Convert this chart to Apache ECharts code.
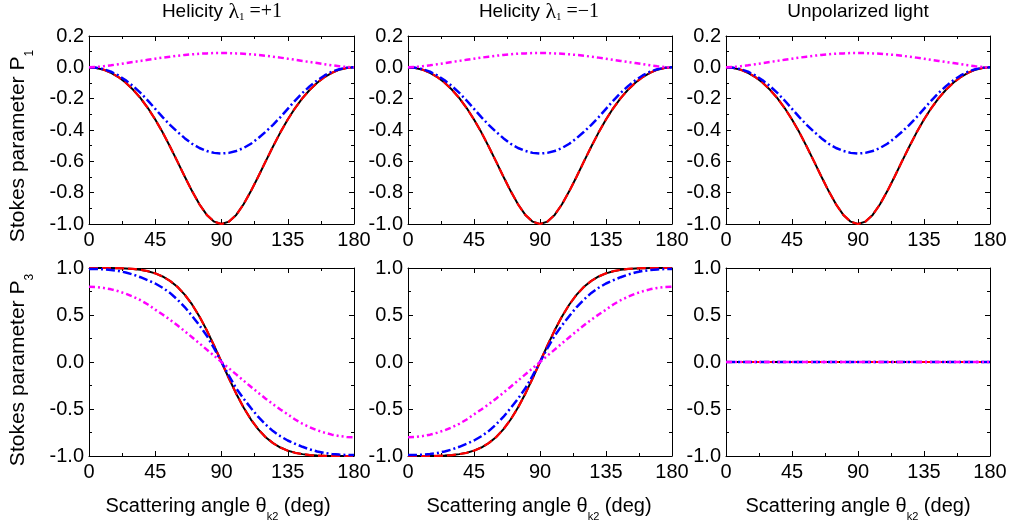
<!DOCTYPE html>
<html><head><meta charset="utf-8">
<script src="https://cdn.jsdelivr.net/npm/echarts@6/dist/echarts.min.js"></script>
<style>html,body{margin:0;padding:0;background:#fff}#c{width:1011px;height:527px}</style>
</head><body><div id="c"></div>
<script>
// ---- data ----
const angles = [0,5,10,15,20,25,30,35,40,45,50,55,60,65,70,75,80,85,90,95,100,105,110,115,120,125,130,135,140,145,150,155,160,165,170,175,180];
const xTicks = [0,45,90,135,180];
const p1TickLabels = ['-1.0','-0.8','-0.6','-0.4','-0.2','0.0','0.2'];
const p3TickLabels = ['-1.0','-0.5','0.0','0.5','1.0'];

const p1Black = [0,-0.004,-0.015,-0.035,-0.062,-0.098,-0.143,-0.197,-0.260,-0.333,-0.415,-0.505,-0.600,-0.697,-0.790,-0.874,-0.942,-0.985,-1.000,-0.985,-0.942,-0.874,-0.790,-0.697,-0.600,-0.505,-0.415,-0.333,-0.260,-0.197,-0.143,-0.098,-0.062,-0.035,-0.015,-0.004,0];
const p1Red   = [0,-0.004,-0.015,-0.035,-0.062,-0.098,-0.143,-0.197,-0.260,-0.333,-0.415,-0.505,-0.600,-0.697,-0.790,-0.874,-0.942,-0.985,-1.000,-0.985,-0.942,-0.874,-0.790,-0.697,-0.600,-0.505,-0.415,-0.333,-0.260,-0.197,-0.143,-0.098,-0.062,-0.035,-0.015,-0.004,0];
const p1Blue  = [0,-0.003,-0.012,-0.028,-0.052,-0.083,-0.120,-0.163,-0.212,-0.265,-0.318,-0.367,-0.411,-0.452,-0.488,-0.515,-0.534,-0.546,-0.550,-0.546,-0.534,-0.515,-0.488,-0.452,-0.411,-0.367,-0.318,-0.265,-0.212,-0.163,-0.120,-0.083,-0.052,-0.028,-0.012,-0.003,0];
const p1Magenta = [0,0.002,0.007,0.013,0.020,0.027,0.034,0.041,0.048,0.055,0.062,0.068,0.074,0.079,0.083,0.087,0.089,0.091,0.091,0.091,0.089,0.087,0.083,0.079,0.074,0.068,0.062,0.055,0.048,0.041,0.034,0.027,0.020,0.013,0.007,0.002,0];

const p3PlusBlack = [1.000,1.000,1.000,0.999,0.998,0.995,0.990,0.980,0.966,0.943,0.910,0.863,0.800,0.717,0.612,0.485,0.337,0.173,0.000,-0.173,-0.337,-0.485,-0.612,-0.717,-0.800,-0.863,-0.910,-0.943,-0.966,-0.980,-0.990,-0.995,-0.998,-0.999,-1.000,-1.000,-1.000];
const p3PlusRed   = [1.000,1.000,1.000,0.999,0.998,0.995,0.990,0.980,0.966,0.943,0.910,0.863,0.800,0.717,0.612,0.485,0.337,0.173,0.000,-0.173,-0.337,-0.485,-0.612,-0.717,-0.800,-0.863,-0.910,-0.943,-0.966,-0.980,-0.990,-0.995,-0.998,-0.999,-1.000,-1.000,-1.000];
const p3PlusBlue  = [0.990,0.989,0.985,0.978,0.968,0.952,0.930,0.902,0.870,0.835,0.790,0.735,0.665,0.585,0.490,0.390,0.280,0.145,0.000,-0.145,-0.280,-0.390,-0.490,-0.585,-0.665,-0.735,-0.790,-0.835,-0.870,-0.902,-0.930,-0.952,-0.968,-0.978,-0.985,-0.989,-0.990];
const p3PlusMagenta = [0.800,0.797,0.788,0.773,0.752,0.726,0.694,0.657,0.612,0.557,0.505,0.450,0.390,0.328,0.264,0.198,0.132,0.066,0.000,-0.066,-0.132,-0.198,-0.264,-0.328,-0.390,-0.450,-0.505,-0.557,-0.612,-0.657,-0.694,-0.726,-0.752,-0.773,-0.788,-0.797,-0.800];

const p3MinusBlack = [-1.000,-1.000,-1.000,-0.999,-0.998,-0.995,-0.990,-0.980,-0.966,-0.943,-0.910,-0.863,-0.800,-0.717,-0.612,-0.485,-0.337,-0.173,0.000,0.173,0.337,0.485,0.612,0.717,0.800,0.863,0.910,0.943,0.966,0.980,0.990,0.995,0.998,0.999,1.000,1.000,1.000];
const p3MinusRed   = [-1.000,-1.000,-1.000,-0.999,-0.998,-0.995,-0.990,-0.980,-0.966,-0.943,-0.910,-0.863,-0.800,-0.717,-0.612,-0.485,-0.337,-0.173,0.000,0.173,0.337,0.485,0.612,0.717,0.800,0.863,0.910,0.943,0.966,0.980,0.990,0.995,0.998,0.999,1.000,1.000,1.000];
const p3MinusBlue  = [-0.990,-0.989,-0.985,-0.978,-0.968,-0.952,-0.930,-0.902,-0.870,-0.835,-0.790,-0.735,-0.665,-0.585,-0.490,-0.390,-0.280,-0.145,0.000,0.145,0.280,0.390,0.490,0.585,0.665,0.735,0.790,0.835,0.870,0.902,0.930,0.952,0.968,0.978,0.985,0.989,0.990];
const p3MinusMagenta = [-0.800,-0.797,-0.788,-0.773,-0.752,-0.726,-0.694,-0.657,-0.612,-0.557,-0.505,-0.450,-0.390,-0.328,-0.264,-0.198,-0.132,-0.066,0.000,0.066,0.132,0.198,0.264,0.328,0.390,0.450,0.505,0.557,0.612,0.657,0.694,0.726,0.752,0.773,0.788,0.797,0.800];

const p3Unpolarized = [0,0,0,0,0,0,0,0,0,0,0,0,0,0,0,0,0,0,0,0,0,0,0,0,0,0,0,0,0,0,0,0,0,0,0,0,0];

// ---- layout / style ----
const FONT = '"Liberation Sans", Arial, sans-serif';
const SERIF = '"Liberation Serif", "Times New Roman", serif';
const lefts = [89, 408, 726], widths = [265, 264, 264], tops = [36, 268], H = 188;
const styles = [
  {color:'#000000', width:2, type:'solid'},
  {color:'#ff0000', width:2.2, type:[9,4]},
  {color:'#0000ff', width:2.5, type:[9,3,2,3]},
  {color:'#ff00ff', width:2.5, type:[6,3,2,3,2,3]}
];
const panels = [
  {row:0, col:0, d:[p1Black,p1Red,p1Blue,p1Magenta]},
  {row:0, col:1, d:[p1Black,p1Red,p1Blue,p1Magenta]},
  {row:0, col:2, d:[p1Black,p1Red,p1Blue,p1Magenta]},
  {row:1, col:0, d:[p3PlusBlack,p3PlusRed,p3PlusBlue,p3PlusMagenta]},
  {row:1, col:1, d:[p3MinusBlack,p3MinusRed,p3MinusBlue,p3MinusMagenta]},
  {row:1, col:2, d:[p3Unpolarized,p3Unpolarized,p3Unpolarized,p3Unpolarized]}
];

const grid = [], xAxis = [], yAxis = [], series = [];
const line = {show:true, onZero:false, lineStyle:{color:'#000', width:1}};
const tick = {show:true, inside:true, length:5, lineStyle:{color:'#000', width:1}};
const minor = (n)=>({show:true, splitNumber:n, length:3, lineStyle:{color:'#000', width:1}});

panels.forEach((p, g) => {
  grid.push({left:lefts[p.col], top:tops[p.row], width:widths[p.col], height:H, containLabel:false});
  const xa = {type:'value', gridIndex:g, min:xTicks[0], max:xTicks[xTicks.length-1], interval:xTicks[1]-xTicks[0],
    axisLine:line, axisTick:tick, minorTick:minor(2), splitLine:{show:false}};
  xAxis.push(Object.assign({}, xa, {position:'bottom',
    axisLabel:{show:true, color:'#000', fontSize:20, fontFamily:FONT, margin:6}}));
  xAxis.push(Object.assign({}, xa, {position:'top', axisLabel:{show:false}}));
  const labels = p.row === 0 ? p1TickLabels : p3TickLabels;
  const ymin = parseFloat(labels[0]), ymax = parseFloat(labels[labels.length-1]);
  const step = (ymax-ymin)/(labels.length-1);
  const ya = {type:'value', gridIndex:g, min:ymin, max:ymax, interval:step,
    axisLine:line, axisTick:tick, minorTick:minor(2), splitLine:{show:false}};
  yAxis.push(Object.assign({}, ya, {position:'left',
    axisLabel:{show:true, color:'#000', fontSize:20, fontFamily:FONT, margin:5,
      formatter:(v)=> labels[Math.round((v-ymin)/step)]}}));
  yAxis.push(Object.assign({}, ya, {position:'right', axisLabel:{show:false}}));
  p.d.forEach((arr, k) => {
    series.push({type:'line', xAxisIndex:2*g, yAxisIndex:2*g, showSymbol:false, symbol:'none',
      lineStyle:styles[k], z:2+k, silent:true,
      data: angles.map((a,i)=>[a, arr[i]])});
  });
});

// ---- text with subscripts, built from measured pieces ----
const mctx = document.createElement('canvas').getContext('2d');
function textGroup(cx, cy, rot, pieces){
  let W = 0;
  pieces.forEach(p => { p.font = p.size + 'px ' + p.family; mctx.font = p.font; p.w = mctx.measureText(p.text).width; W += p.w; });
  let x = -W/2; const children = [];
  pieces.forEach(p => {
    children.push({type:'text', x:x, y:p.dy||0, silent:true,
      style:{text:p.text, font:p.font, fill:'#000', align:'left', verticalAlign:'middle'}});
    x += p.w;
  });
  return {type:'group', x:cx, y:cy, rotation:rot, silent:true, children};
}
const graphic = [];
graphic.push(textGroup(222, 12, 0, [
  {text:'Helicity ', size:19, family:FONT},
  {text:'λ', size:22, family:SERIF},
  {text:'1', size:11, family:SERIF, dy:5},
  {text:' =+1', size:20, family:SERIF}]));
graphic.push(textGroup(539, 12, 0, [
  {text:'Helicity ', size:19, family:FONT},
  {text:'λ', size:22, family:SERIF},
  {text:'1', size:11, family:SERIF, dy:5},
  {text:' =−1', size:20, family:SERIF}]));
graphic.push(textGroup(858, 12, 0, [{text:'Unpolarized light', size:19, family:FONT}]));
[218, 539, 858].forEach(cx => graphic.push(textGroup(cx, 506, 0, [
  {text:'Scattering angle θ', size:20, family:FONT},
  {text:'k2', size:11, family:FONT, dy:11},
  {text:' (deg)', size:20, family:FONT}])));
graphic.push(textGroup(18.5, 146, Math.PI/2, [
  {text:'Stokes parameter P', size:21, family:FONT},
  {text:'1', size:12, family:FONT, dy:11}]));
graphic.push(textGroup(18.5, 370, Math.PI/2, [
  {text:'Stokes parameter P', size:21, family:FONT},
  {text:'3', size:12, family:FONT, dy:11}]));

const chart = echarts.init(document.getElementById('c'), null, {renderer:'canvas'});
chart.setOption({backgroundColor:'#ffffff', animation:false, grid, xAxis, yAxis, series, graphic});
</script></body></html>
